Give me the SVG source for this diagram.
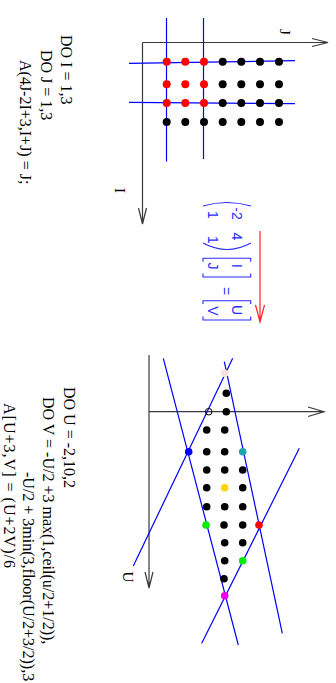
<svg xmlns="http://www.w3.org/2000/svg" width="336" height="683" viewBox="0 0 336 683">
<style>
.code{font-family:"Liberation Serif","Times New Roman",serif;font-size:16px;fill:#000}
.lab{font-family:"Liberation Serif","Times New Roman",serif;font-size:15px;fill:#000}
.mat{font-family:"Liberation Sans",Arial,sans-serif;font-size:14px;fill:#2a2aff}
.axis{stroke:#3a3a3a;stroke-width:1.2;fill:none}
.bl{stroke:#0000ff;stroke-width:1.2;fill:none}
.br{stroke:#2a2aff;stroke-width:1.1;fill:none}
.k{fill:#000}
.r{fill:#ff0000}
</style>
<rect width="336" height="683" fill="#fff"/>
<g id="code1">
<text class="code" transform="translate(61,35) rotate(90)">DO I = 1,3</text>
<text class="code" transform="translate(40.5,50) rotate(90)">DO J = 1,3</text>
<text class="code" transform="translate(20,60) rotate(90)">A(4J-2I+3,I+J) = J;</text>
</g>
<g id="code2">
<text class="code" transform="translate(64,387) rotate(90)">DO U = -2,10,2</text>
<text class="code" transform="translate(43,397) rotate(90)">DO V = -U/2 +3 max(1,ceil(u/2+1/2)),</text>
<text class="code" transform="translate(23,472) rotate(90)">-U/2 + 3min(3,floor(U/2+3/2)),3</text>
<text class="code" transform="translate(3.5,403) rotate(90)" textLength="165" lengthAdjust="spacing">A[U+3,V] = (U+2V)/6</text>
</g>
<g id="axes1">
<path class="axis" d="M142.5,42.5 L142.5,224 M138.5,208 L142.5,224 L146.5,208"/>
<path class="axis" d="M142.5,42.5 L328,42.5 M312,38.5 L328,42.5 L312,46.5"/>
<text class="lab" text-anchor="middle" transform="translate(280,32) rotate(90)">J</text>
<text class="lab" text-anchor="middle" transform="translate(115,190.5) rotate(90)">I</text>
</g>
<g id="lines1">
<path class="bl" d="M166.5,18 L166.5,161.5 M203.5,18 L203.5,159 M129,63.3 L295,60.7 M129,102.3 L295,103.7"/>
</g>
<g id="dots1">
<circle class="r" cx="166.7" cy="61.7" r="4"/><circle class="r" cx="185.3" cy="61.7" r="4"/><circle class="r" cx="204" cy="61.7" r="4"/>
<circle class="k" cx="222.7" cy="61.7" r="4"/><circle class="k" cx="241.3" cy="61.7" r="4"/><circle class="k" cx="260" cy="61.7" r="4"/><circle class="k" cx="279" cy="61.7" r="4"/>
<circle class="r" cx="166.7" cy="84.3" r="4"/><circle class="r" cx="185.3" cy="84.3" r="4"/><circle class="r" cx="204" cy="84.3" r="4"/>
<circle class="k" cx="222.7" cy="84.3" r="4"/><circle class="k" cx="241.3" cy="84.3" r="4"/><circle class="k" cx="260" cy="84.3" r="4"/><circle class="k" cx="279" cy="84.3" r="4"/>
<circle class="r" cx="166.7" cy="103" r="4"/><circle class="r" cx="185.3" cy="103" r="4"/><circle class="r" cx="204" cy="103" r="4"/>
<circle class="k" cx="222.7" cy="103" r="4"/><circle class="k" cx="241.3" cy="103" r="4"/><circle class="k" cx="260" cy="103" r="4"/><circle class="k" cx="279" cy="103" r="4"/>
<circle class="k" cx="166.7" cy="122" r="4"/><circle class="k" cx="185.3" cy="122" r="4"/><circle class="k" cx="204" cy="122" r="4"/>
<circle class="k" cx="222.7" cy="122" r="4"/><circle class="k" cx="241.3" cy="122" r="4"/><circle class="k" cx="260" cy="122" r="4"/><circle class="k" cx="279" cy="122" r="4"/>
</g>
<g id="matrix">
<path class="br" d="M203,206 Q227,199 251,206 M203,243 Q227,256 251,243"/>
<text class="mat" text-anchor="middle" transform="translate(232,213.5) rotate(90)">-2</text>
<text class="mat" text-anchor="middle" transform="translate(232,236.5) rotate(90)">4</text>
<text class="mat" text-anchor="middle" transform="translate(208,215) rotate(90)">1</text>
<text class="mat" text-anchor="middle" transform="translate(208,240) rotate(90)">1</text>
<path class="br" d="M203,261.7 L203,258.3 L250.7,258.3 L250.7,261.7 M203,273.5 L203,277 L250.7,277 L250.7,273.5"/>
<text class="mat" text-anchor="middle" transform="translate(232,266) rotate(90)">I</text>
<text class="mat" text-anchor="middle" transform="translate(208,266) rotate(90)">J</text>
<text class="mat" text-anchor="middle" transform="translate(220.7,291) rotate(90)">=</text>
<path class="br" d="M203,304 L203,300.7 L250.7,300.7 L250.7,304 M203,316.5 L203,320 L250.7,320 L250.7,316.5"/>
<text class="mat" text-anchor="middle" transform="translate(232,310) rotate(90)">U</text>
<text class="mat" text-anchor="middle" transform="translate(208,311) rotate(90)">V</text>
</g>
<g id="arrow">
<path d="M260,231 L260,322 M255.5,305 L260,322 L264.5,305" stroke="#ff2020" stroke-width="1.2" fill="none"/>
</g>
<g id="axes2">
<path class="axis" d="M149,355 L149,588 M145,572 L149,588 L153,572"/>
<path class="axis" d="M149,411.7 L324,411.7 M308,407 L324,411.7 L308,416.5"/>
<text class="lab" text-anchor="middle" transform="translate(123,577) rotate(90)">U</text>
</g>
<g id="lines2">
<path class="bl" d="M163.3,358.3 L238.3,645 M224.3,361.7 L282.3,633.3 M232.7,358.3 L133.3,566 M299.3,448.3 L201.7,643.3"/>
</g>
<g id="dots2">
<circle fill="#ffe0e0" cx="224.7" cy="373.3" r="3.8"/>
<circle class="k" cx="226.3" cy="393.3" r="3.8"/>
<circle fill="none" stroke="#000" stroke-width="1" cx="208.7" cy="411.7" r="3.3"/>
<circle class="k" cx="226.3" cy="411.7" r="3.8"/>
<circle class="k" cx="206.7" cy="430" r="3.8"/><circle class="k" cx="224.7" cy="430" r="3.8"/>
<circle fill="#0000ff" cx="188.7" cy="451.7" r="3.8"/>
<circle class="k" cx="206.7" cy="451.7" r="3.8"/><circle class="k" cx="224.7" cy="451.7" r="3.8"/>
<circle fill="#1fa3b3" cx="242.7" cy="451.7" r="3.8"/>
<circle class="k" cx="206.7" cy="470" r="3.8"/><circle class="k" cx="224.7" cy="470" r="3.8"/><circle class="k" cx="242.7" cy="470" r="3.8"/>
<circle class="k" cx="206.7" cy="487.7" r="3.8"/><circle fill="#ffd400" cx="224.7" cy="487.7" r="3.8"/><circle class="k" cx="242.7" cy="487.7" r="3.8"/>
<circle class="k" cx="206.7" cy="506.7" r="3.8"/><circle class="k" cx="224.7" cy="506.7" r="3.8"/><circle class="k" cx="242.7" cy="506.7" r="3.8"/>
<circle fill="#00ee00" cx="206" cy="525" r="3.8"/><circle class="k" cx="224" cy="525" r="3.8"/><circle class="k" cx="242.7" cy="525" r="3.8"/>
<circle fill="#ff0000" cx="259" cy="525" r="3.8"/>
<circle class="k" cx="224.7" cy="542.7" r="3.8"/><circle class="k" cx="242.7" cy="542.7" r="3.8"/>
<circle class="k" cx="224.7" cy="560.7" r="3.8"/><circle fill="#00ee00" cx="242.7" cy="560.7" r="3.8"/>
<circle class="k" cx="224" cy="578.7" r="3.8"/>
<circle fill="#ee00ee" cx="224.7" cy="595.7" r="3.8"/>
</g>
</svg>
